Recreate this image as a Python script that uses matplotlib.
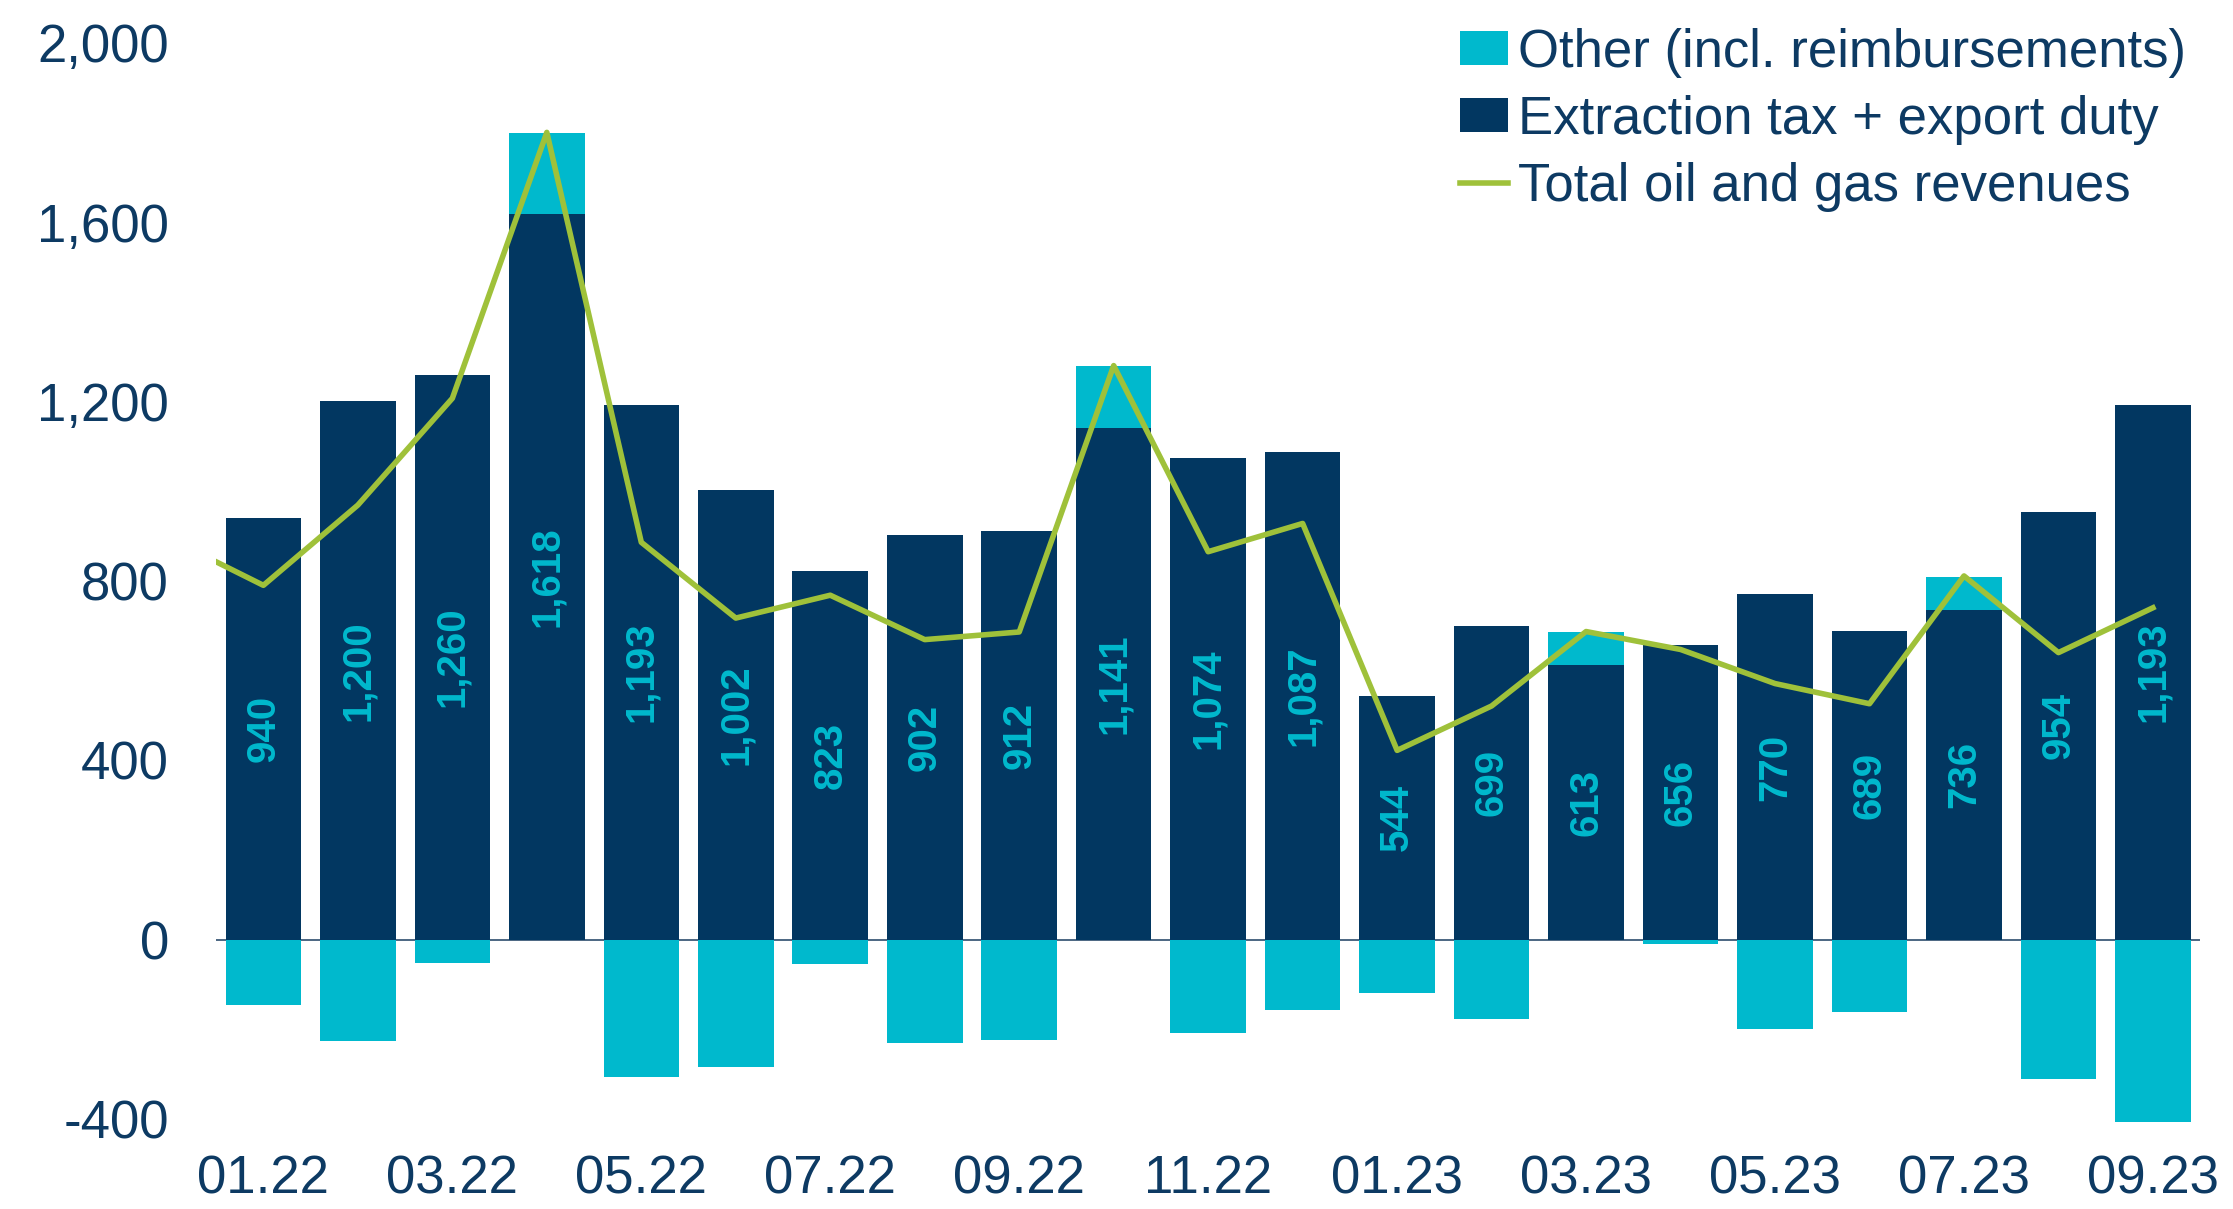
import numpy as np
import matplotlib
matplotlib.use('Agg')
import matplotlib.pyplot as plt
from matplotlib.ticker import FuncFormatter

# monthly oil and gas revenues, bn rub
months = ['01.22', '02.22', '03.22', '04.22', '05.22', '06.22', '07.22', '08.22', '09.22',
          '10.22', '11.22', '12.22', '01.23', '02.23', '03.23', '04.23', '05.23', '06.23',
          '07.23', '08.23', '09.23']
extraction = [940, 1200, 1260, 1618, 1193, 1002, 823, 902, 912, 1141, 1074, 1087,
              544, 699, 613, 656, 770, 689, 736, 954, 1193]
other = [-145, -227, -52, 180, -307, -284, -54, -230, -224, 138, -209, -156,
         -119, -178, 72, -10, -200, -161, 72, -310, -406]
# total line, first value is 12.21 (runs in from the left edge)
total = [895, 790, 969, 1207, 1800, 886, 717, 768, 669, 686, 1280, 865, 928,
         422, 521, 687, 647, 571, 526, 811, 640, 740]

NAVY = '#023761'
CYAN = '#00b9cd'
GREEN = '#9fc13a'
TEXT = '#0d3a63'

plt.rcParams['font.family'] = ['Liberation Sans', 'DejaVu Sans']

fig = plt.figure(figsize=(22.33, 12.09), dpi=100)
ax = fig.add_axes([0.0968, 0.0707, 0.9853 - 0.0968, 0.9647 - 0.0707])

x = np.arange(len(months))
ext = np.array(extraction)
oth = np.array(other)
bottom = np.where(oth > 0, ext, 0)

bars = ax.bar(x, ext, width=0.8, color=NAVY, label='Extraction tax + export duty', zorder=2)
ax.bar(x, oth, width=0.8, bottom=bottom, color=CYAN, label='Other (incl. reimbursements)', zorder=2)
ax.plot(np.arange(-1, len(months)), total, color=GREEN, lw=4, zorder=3,
        label='Total oil and gas revenues')
ax.axhline(0, color='#3d5a78', lw=1.3, zorder=1)

ax.bar_label(bars, labels=[f'{v:,}' for v in extraction], label_type='center',
             rotation=90, color=CYAN, fontsize=29, fontweight='bold')

ax.set_xlim(-0.5, len(months) - 0.5)
ax.set_ylim(-410, 2000)
ax.set_yticks([-400, 0, 400, 800, 1200, 1600, 2000])
ax.yaxis.set_major_formatter(FuncFormatter(lambda v, p: f'{int(v):,}'))
ax.set_xticks(x[::2])
ax.set_xticklabels(months[::2])
ax.tick_params(axis='y', length=0, pad=34, labelsize=38, labelcolor=TEXT)
ax.tick_params(axis='x', length=0, pad=22, labelsize=38, labelcolor=TEXT)
for s in ax.spines.values():
    s.set_visible(False)

h, l = ax.get_legend_handles_labels()
order = [2, 1, 0]
leg = fig.legend([h[i] for i in order], [l[i] for i in order], loc='upper left',
                 bbox_to_anchor=(1460 / 2233, 0.977), frameon=False, fontsize=38,
                 handlelength=0.9, handleheight=0.6, handletextpad=0.2,
                 labelspacing=0.32, borderpad=0, borderaxespad=0)
for t in leg.get_texts():
    t.set_color(TEXT)

fig.savefig('out.png', dpi=100)
